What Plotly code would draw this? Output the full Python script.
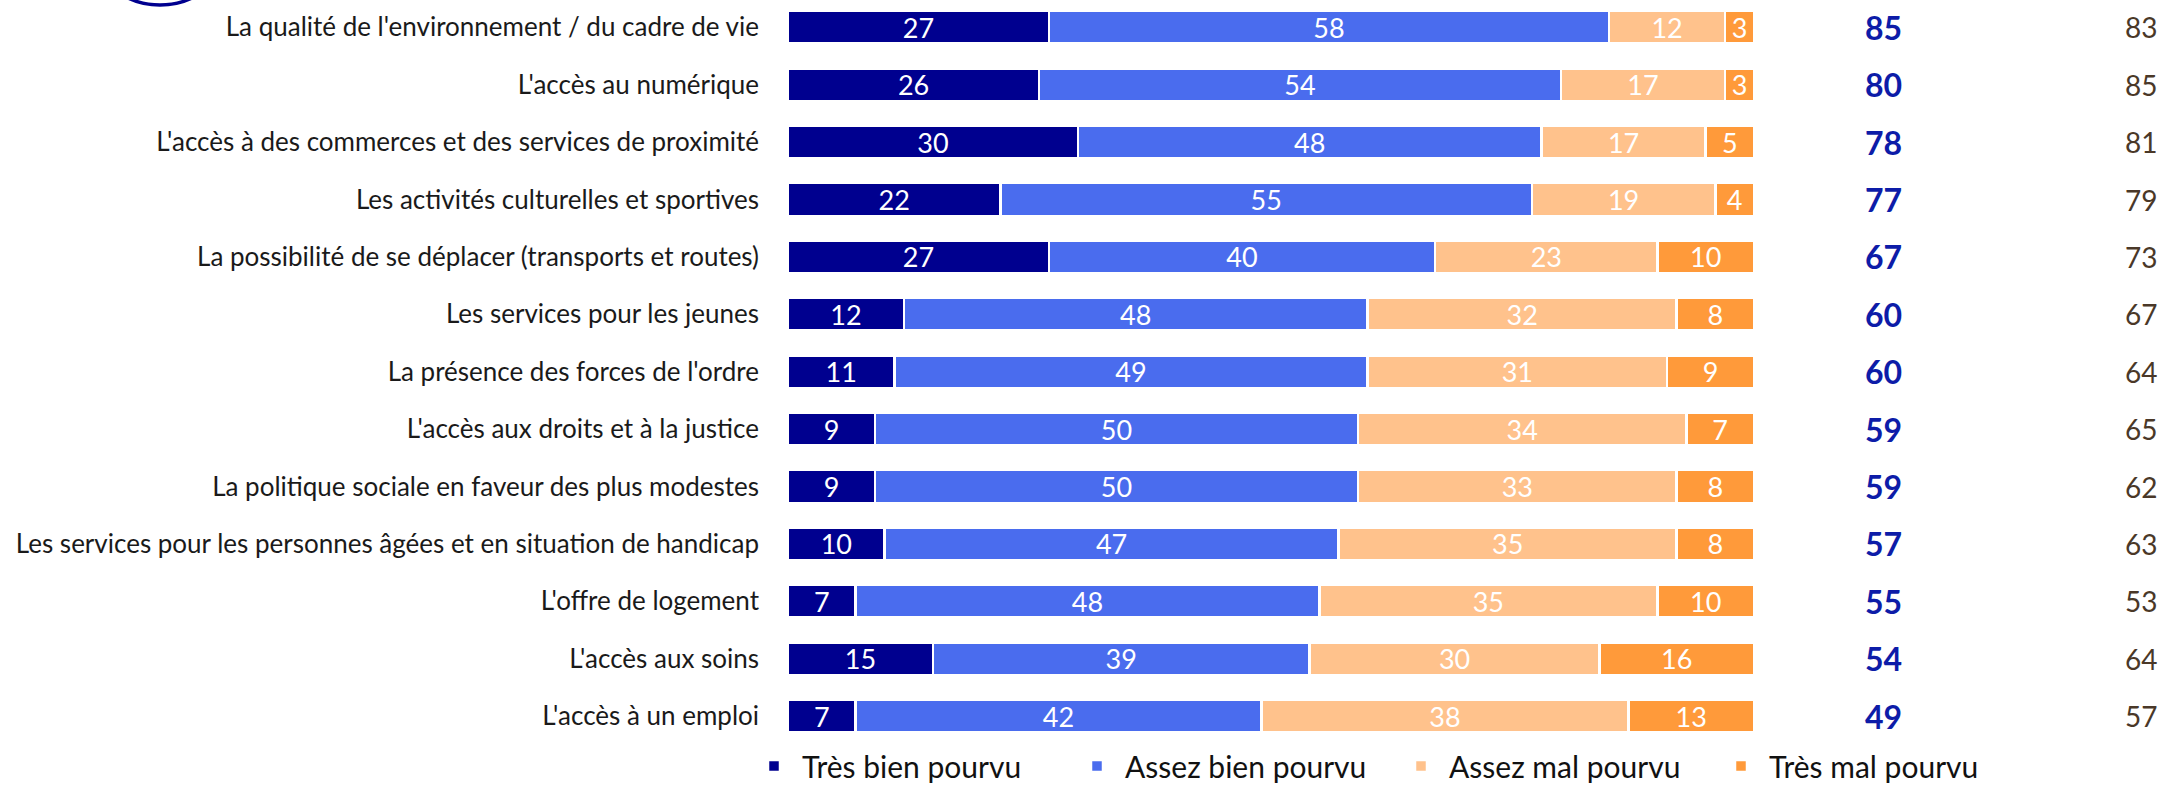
import plotly.graph_objects as go

categories = [
    "La qualité de l'environnement / du cadre de vie",
    "L'accès au numérique",
    "L'accès à des commerces et des services de proximité",
    "Les activités culturelles et sportives",
    "La possibilité de se déplacer (transports et routes)",
    "Les services pour les jeunes",
    "La présence des forces de l'ordre",
    "L'accès aux droits et à la justice",
    "La politique sociale en faveur des plus modestes",
    "Les services pour les personnes âgées et en situation de handicap",
    "L'offre de logement",
    "L'accès aux soins",
    "L'accès à un emploi",
]
tres_bien = [27, 26, 30, 22, 27, 12, 11, 9, 9, 10, 7, 15, 7]
assez_bien = [58, 54, 48, 55, 40, 48, 49, 50, 50, 47, 48, 39, 42]
assez_mal = [12, 17, 17, 19, 23, 32, 31, 34, 33, 35, 35, 30, 38]
tres_mal = [3, 3, 5, 4, 10, 8, 9, 7, 8, 8, 10, 16, 13]
total_pourvu = [85, 80, 78, 77, 67, 60, 60, 59, 59, 57, 55, 54, 49]
total_prev = [83, 85, 81, 79, 73, 67, 64, 65, 62, 63, 53, 64, 57]

series_names = ["Très bien pourvu", "Assez bien pourvu", "Assez mal pourvu", "Très mal pourvu"]
series_values = [tres_bien, assez_bien, assez_mal, tres_mal]
colors = ["#00008F", "#4A6CEE", "#FFC28C", "#FF9A3A"]

FONT = "Lato, 'Open Sans', sans-serif"

W, H = 2183, 785
ML, MR, MT, MB = 788, 429, 0, 40
PW, PH = W - ML - MR, H - MT - MB
ROW0, ROWSTEP = 27.3, 57.4
y_top = -ROW0 / ROWSTEP
y_bottom = y_top + PH / ROWSTEP


def px_to_paper_x(px):
    return (px - ML) / PW


def px_to_paper_y(py):
    return (H - MB - py) / PH


legend_ids = ["legend", "legend2", "legend3", "legend4"]
legend_marker_px = [773, 1096, 1420, 1740]

fig = go.Figure()
for name, vals, col, lid in zip(series_names, series_values, colors, legend_ids):
    fig.add_trace(go.Bar(
        y=categories, x=vals, name=name, orientation="h", legend=lid,
        marker=dict(color=col, line=dict(color="white", width=2.5)),
        text=[str(v) for v in vals], textposition="inside", textangle=0,
        insidetextanchor="middle", constraintext="none",
        textfont=dict(color="white", size=27, family=FONT),
        hoverinfo="skip",
    ))

for cat, t1, t2 in zip(categories, total_pourvu, total_prev):
    fig.add_annotation(x=px_to_paper_x(1904), xref="paper", y=cat, yref="y",
                       text=f"<b>{t1}</b>", showarrow=False,
                       font=dict(size=32, color="#0D1CA8", family=FONT))
    fig.add_annotation(x=px_to_paper_x(2159), xref="paper", y=cat, yref="y",
                       text=str(t2), showarrow=False,
                       font=dict(size=28, color="#4A3828", family=FONT))

# partial logo ring at top-left
cx, cy, r = 160, -69, 74
fig.add_shape(type="circle", xref="paper", yref="paper",
              x0=px_to_paper_x(cx - r), x1=px_to_paper_x(cx + r),
              y0=px_to_paper_y(cy + r), y1=px_to_paper_y(cy - r),
              line=dict(color="#00008F", width=3.5))

legend_common = dict(orientation="h", xanchor="left", yanchor="middle",
                     y=px_to_paper_y(766), bgcolor="rgba(0,0,0,0)",
                     font=dict(size=30, color="#111111", family=FONT),
                     itemwidth=46)

layout_legends = {}
for lid, mpx in zip(legend_ids, legend_marker_px):
    layout_legends[lid] = dict(legend_common, x=px_to_paper_x(mpx - 27))

fig.update_layout(
    width=W, height=H,
    margin=dict(l=ML, r=MR, t=MT, b=MB, autoexpand=False),
    barmode="stack", bargap=0.43,
    plot_bgcolor="white", paper_bgcolor="white",
    font=dict(family=FONT, size=26, color="#1a1a1a"),
    xaxis=dict(range=[0, 100], visible=False, fixedrange=True),
    yaxis=dict(range=[y_bottom, y_top], showgrid=False, showline=False,
               ticks="", ticklabelstandoff=28, tickfont=dict(size=26, color="#1a1a1a"),
               fixedrange=True),
    uniformtext=dict(mode="show", minsize=27),
    showlegend=True,
    **layout_legends,
)

fig.write_html("out.html", config={"displayModeBar": False},
               post_script="document.body.style.margin='0';")
